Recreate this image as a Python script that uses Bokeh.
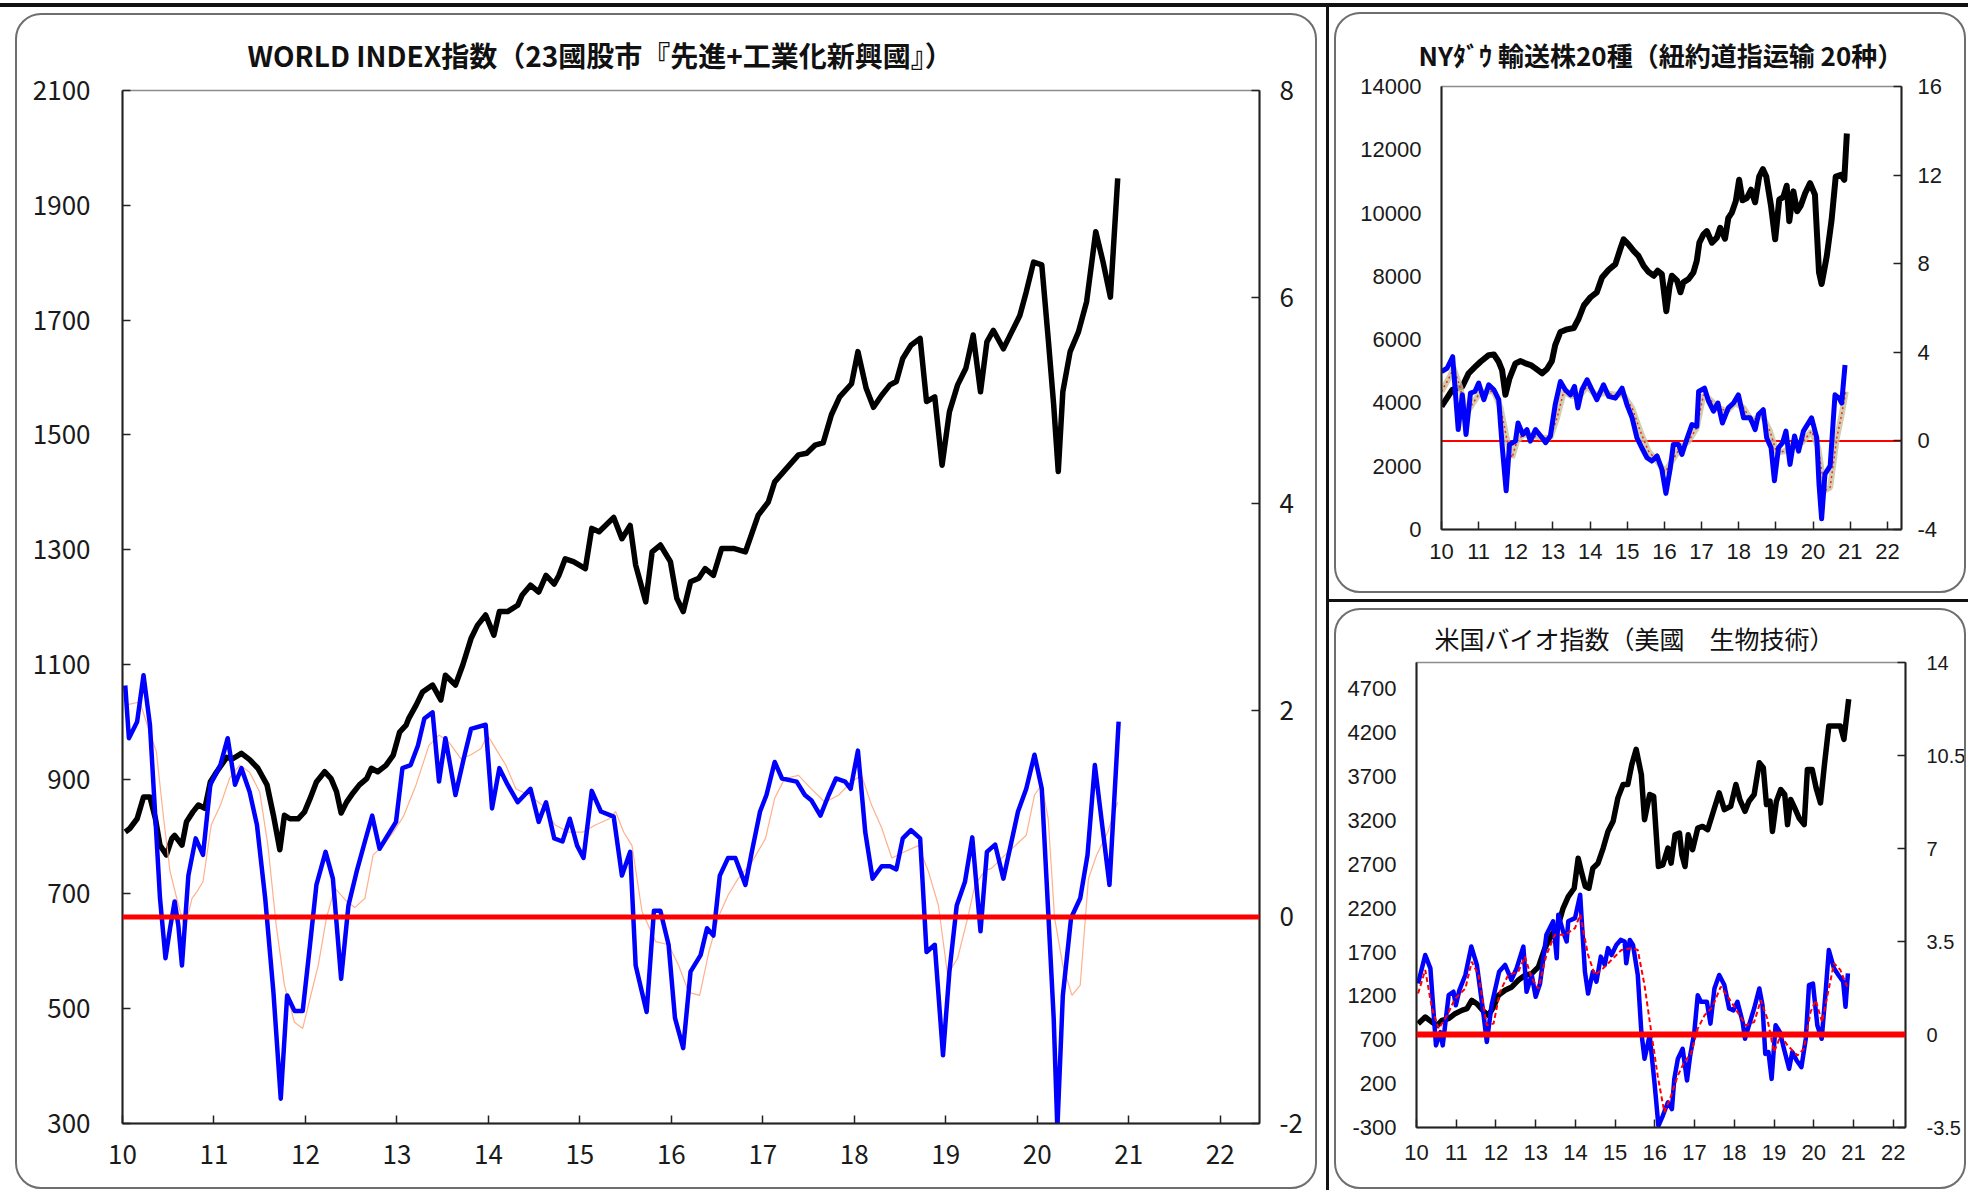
from bokeh.plotting import figure
from bokeh.models import Range1d, LinearAxis, FixedTicker, Span
from bokeh.layouts import row, column
from bokeh.embed import file_html
from bokeh.resources import INLINE

# ---------------- data (decimal years) ----------------
year_ticks = list(range(10, 23))

# WORLD INDEX (left axis)
world_x = [10.03, 10.08, 10.16, 10.23, 10.30, 10.36, 10.41, 10.48, 10.54, 10.57, 10.65, 10.70, 10.77, 10.83,
           10.90, 10.96, 11.03, 11.14, 11.21, 11.30, 11.39, 11.48, 11.58, 11.65, 11.72, 11.77, 11.83, 11.92,
           11.99, 12.05, 12.12, 12.21, 12.28, 12.34, 12.39, 12.45, 12.52, 12.59, 12.67, 12.72, 12.79, 12.88,
           12.96, 13.03, 13.10, 13.13, 13.21, 13.28, 13.39, 13.48, 13.53, 13.64, 13.72, 13.81, 13.88, 13.97,
           14.06, 14.12, 14.21, 14.32, 14.37, 14.46, 14.55, 14.63, 14.72, 14.77, 14.84, 14.93, 15.06, 15.13,
           15.21, 15.28, 15.37, 15.46, 15.55, 15.61, 15.72, 15.79, 15.88, 15.99, 16.06, 16.13, 16.21, 16.30,
           16.37, 16.46, 16.55, 16.68, 16.81, 16.95, 17.06, 17.13, 17.24, 17.39, 17.48, 17.57, 17.66, 17.75,
           17.84, 17.97, 18.04, 18.13, 18.21, 18.30, 18.39, 18.46, 18.53, 18.62, 18.72, 18.79, 18.88, 18.96,
           19.04, 19.13, 19.22, 19.30, 19.38, 19.45, 19.52, 19.63, 19.72, 19.81, 19.88, 19.96, 20.05, 20.12,
           20.18, 20.23, 20.28, 20.36, 20.45, 20.54, 20.64, 20.72, 20.80, 20.88]
world_idx = [808, 814, 831, 869, 869, 831, 785, 768, 797, 802, 785, 826, 843, 855,
             849, 895, 913, 938, 936, 945, 934, 919, 890, 837, 777, 837, 831, 831,
             843, 866, 895, 913, 901, 878, 841, 860, 876, 890, 901, 919, 913, 924,
             942, 982, 994, 1006, 1029, 1052, 1064, 1038, 1081, 1064, 1099, 1145, 1168, 1186,
             1151, 1192, 1192, 1203, 1221, 1238, 1226, 1255, 1240, 1255, 1284, 1279, 1267, 1337,
             1331, 1342, 1356, 1319, 1342, 1273, 1209, 1296, 1308, 1279, 1215, 1192, 1244, 1250,
             1267, 1255, 1302, 1302, 1296, 1360, 1383, 1418, 1438, 1465, 1468, 1482, 1486, 1535,
             1566, 1589, 1645, 1581, 1548, 1569, 1587, 1593, 1633, 1656, 1668, 1558, 1566, 1447,
             1540, 1587, 1616, 1674, 1575, 1662, 1682, 1650, 1679, 1708, 1749, 1801, 1796, 1668,
             1552, 1436, 1575, 1645, 1679, 1732, 1854, 1801, 1740, 1947]

# momentum (right axis)
world_mom_x = [10.03, 10.07, 10.16, 10.23, 10.30, 10.36, 10.41, 10.47, 10.52, 10.57, 10.61, 10.65, 10.72, 10.80,
               10.88, 10.96, 11.07, 11.15, 11.23, 11.30, 11.39, 11.47, 11.56, 11.65, 11.73, 11.80, 11.88, 11.97,
               12.05, 12.12, 12.22, 12.30, 12.39, 12.47, 12.56, 12.65, 12.73, 12.81, 12.90, 12.99, 13.06, 13.15,
               13.23, 13.30, 13.39, 13.46, 13.53, 13.64, 13.73, 13.81, 13.97, 14.04, 14.12, 14.21, 14.32, 14.46,
               14.55, 14.63, 14.72, 14.81, 14.89, 14.97, 15.04, 15.13, 15.23, 15.37, 15.46, 15.55, 15.61, 15.73,
               15.81, 15.88, 15.97, 16.04, 16.13, 16.21, 16.32, 16.39, 16.46, 16.53, 16.62, 16.70, 16.81, 16.88,
               16.97, 17.04, 17.13, 17.21, 17.37, 17.46, 17.53, 17.63, 17.72, 17.80, 17.90, 17.96, 18.04, 18.12,
               18.20, 18.30, 18.39, 18.46, 18.53, 18.62, 18.72, 18.79, 18.88, 18.97, 19.04, 19.12, 19.21, 19.29,
               19.38, 19.45, 19.54, 19.63, 19.79, 19.88, 19.97, 20.05, 20.12, 20.18, 20.22, 20.28, 20.37, 20.47,
               20.55, 20.63, 20.79, 20.89]
world_mom = [2.24, 1.73, 1.89, 2.34, 1.86, 0.95, 0.18, -0.40, -0.11, 0.15, -0.08, -0.47, 0.40, 0.76,
             0.60, 1.28, 1.47, 1.73, 1.28, 1.44, 1.21, 0.89, 0.18, -0.73, -1.76, -0.76, -0.91, -0.91,
             -0.27, 0.31, 0.63, 0.37, -0.60, 0.11, 0.44, 0.73, 0.98, 0.66, 0.79, 0.92, 1.44, 1.47,
             1.66, 1.92, 1.98, 1.31, 1.73, 1.18, 1.53, 1.82, 1.86, 1.05, 1.44, 1.28, 1.11, 1.24,
             0.92, 1.11, 0.76, 0.73, 0.95, 0.69, 0.57, 1.22, 1.02, 0.97, 0.40, 0.63, -0.47, -0.92,
             0.06, 0.06, -0.27, -0.98, -1.27, -0.53, -0.37, -0.11, -0.18, 0.40, 0.57, 0.57, 0.31, 0.63,
             1.02, 1.18, 1.50, 1.34, 1.31, 1.18, 1.13, 0.98, 1.18, 1.34, 1.31, 1.24, 1.61, 0.82,
             0.37, 0.49, 0.49, 0.46, 0.76, 0.84, 0.76, -0.34, -0.27, -1.34, -0.53, 0.11, 0.34, 0.77,
             -0.14, 0.63, 0.70, 0.37, 1.02, 1.24, 1.57, 1.24, 0.05, -0.98, -2.05, -0.76, -0.01, 0.18,
             0.60, 1.47, 0.31, 1.89]

# moving average of momentum (right axis)
world_ma_x = [10.03, 10.19, 10.27, 10.37, 10.45, 10.52, 10.61, 10.68, 10.76, 10.81, 10.88, 10.97, 11.07, 11.17,
              11.28, 11.39, 11.50, 11.59, 11.68, 11.77, 11.88, 11.97, 12.05, 12.14, 12.23, 12.32, 12.45, 12.54,
              12.65, 12.74, 12.85, 12.96, 13.07, 13.21, 13.35, 13.46, 13.57, 13.70, 13.81, 13.92, 13.99, 14.10,
              14.19, 14.30, 14.44, 14.59, 14.73, 14.88, 15.03, 15.17, 15.32, 15.39, 15.48, 15.57, 15.68, 15.83,
              15.97, 16.08, 16.19, 16.31, 16.41, 16.52, 16.62, 16.73, 16.88, 17.03, 17.13, 17.24, 17.39, 17.53,
              17.68, 17.83, 17.97, 18.08, 18.19, 18.30, 18.41, 18.55, 18.70, 18.81, 18.92, 19.02, 19.13, 19.24,
              19.32, 19.43, 19.50, 19.65, 19.76, 19.88, 19.97, 20.05, 20.12, 20.19, 20.28, 20.38, 20.47, 20.56,
              20.65, 20.77, 20.88]
world_ma = [2.05, 2.08, 1.86, 1.60, 0.95, 0.44, 0.12, -0.11, 0.18, 0.24, 0.34, 0.89, 1.08, 1.34,
            1.47, 1.40, 1.21, 0.69, -0.08, -0.66, -1.02, -1.08, -0.79, -0.47, -0.01, 0.28, 0.15, 0.09,
            0.18, 0.60, 0.69, 0.82, 0.97, 1.28, 1.66, 1.76, 1.69, 1.53, 1.57, 1.63, 1.76, 1.60,
            1.47, 1.24, 1.18, 1.08, 0.89, 0.82, 0.82, 0.89, 0.95, 1.02, 0.82, 0.69, 0.05, -0.24,
            -0.27, -0.47, -0.73, -0.76, -0.34, 0.01, 0.21, 0.37, 0.53, 0.76, 1.15, 1.34, 1.37, 1.24,
            1.11, 1.18, 1.31, 1.37, 1.08, 0.86, 0.57, 0.63, 0.69, 0.44, 0.11, -0.56, -0.40, -0.01,
            0.31, 0.45, 0.47, 0.60, 0.69, 0.79, 1.18, 1.28, 0.95, -0.01, -0.47, -0.76, -0.66, 0.37,
            0.60, 0.82, 1.11]

# NY Dow transport 20 (left axis)
tr_x = [10.00, 10.29, 10.56, 10.73, 10.91, 11.05, 11.27, 11.41, 11.54, 11.63, 11.72, 11.83, 11.99, 12.13,
        12.26, 12.40, 12.53, 12.71, 12.84, 12.97, 13.06, 13.20, 13.38, 13.56, 13.69, 13.83, 14.01, 14.18,
        14.32, 14.50, 14.68, 14.81, 14.90, 15.03, 15.17, 15.30, 15.44, 15.57, 15.71, 15.82, 15.93, 16.05,
        16.14, 16.20, 16.34, 16.43, 16.51, 16.65, 16.78, 16.87, 16.94, 17.05, 17.14, 17.28, 17.41, 17.50,
        17.63, 17.72, 17.81, 17.92, 18.01, 18.10, 18.22, 18.33, 18.44, 18.55, 18.65, 18.74, 18.87, 18.98,
        19.09, 19.20, 19.29, 19.36, 19.47, 19.57, 19.67, 19.79, 19.92, 20.05, 20.16, 20.23, 20.37, 20.50,
        20.61, 20.75, 20.84, 20.91]
tr_idx = [3890, 4412, 4517, 4935, 5144, 5301, 5510, 5531, 5301, 5040, 4256, 4778, 5249, 5322,
          5249, 5197, 5092, 4935, 5071, 5322, 5824, 6242, 6326, 6368, 6660, 7079, 7340, 7497,
          7967, 8208, 8386, 8856, 9170, 9013, 8804, 8647, 8333, 8145, 8020, 8177, 8072, 6900,
          7700, 8020, 7863, 7497, 7810, 7915, 8124, 8490, 9065, 9327, 9431, 9065, 9222, 9536,
          9191, 9849, 10006, 10372, 11052, 10404, 10477, 10738, 10341, 11156, 11386, 11156, 10215, 9170,
          10425, 10508, 10864, 9745, 10686, 10058, 10236, 10634, 10947, 10581, 8124, 7758, 8647, 9797,
          11156, 11209, 11052, 12516]

tr_mom_x = [10.00, 10.15, 10.30, 10.45, 10.56, 10.66, 10.78, 10.90, 11.00, 11.14, 11.27, 11.41, 11.54, 11.63,
            11.74, 11.83, 11.99, 12.06, 12.19, 12.30, 12.39, 12.53, 12.71, 12.80, 12.93, 13.06, 13.20, 13.33,
            13.47, 13.58, 13.67, 13.78, 13.92, 14.05, 14.18, 14.36, 14.50, 14.68, 14.86, 14.99, 15.13, 15.26,
            15.39, 15.53, 15.66, 15.80, 15.93, 16.04, 16.16, 16.24, 16.38, 16.47, 16.60, 16.74, 16.87, 16.92,
            17.08, 17.19, 17.32, 17.44, 17.56, 17.72, 17.86, 17.99, 18.13, 18.31, 18.44, 18.53, 18.66, 18.75,
            18.87, 18.96, 19.07, 19.18, 19.27, 19.38, 19.50, 19.61, 19.74, 19.96, 20.10, 20.16, 20.23, 20.32,
            20.46, 20.59, 20.70, 20.77, 20.86]
tr_mom = [3.13, 3.28, 3.80, 0.51, 2.08, 0.29, 2.16, 2.23, 2.61, 1.86, 2.53, 2.31, 1.86, -0.16,
          -2.25, -0.16, -0.01, 0.81, 0.29, 0.51, -0.01, 0.51, 0.14, -0.08, 0.22, 1.64, 2.68, 2.31,
          2.08, 2.46, 1.49, 2.31, 2.76, 2.31, 1.86, 2.53, 2.01, 1.93, 2.38, 1.64, 1.04, 0.14,
          -0.31, -0.76, -0.91, -0.68, -1.28, -2.37, -1.20, -0.16, -0.16, -0.61, 0.07, 0.74, 0.66, 2.23,
          2.38, 1.78, 1.34, 1.71, 0.81, 1.49, 1.71, 2.08, 1.04, 1.04, 0.51, 1.19, 1.41, 0.14,
          -0.31, -1.80, -0.31, -0.08, 0.44, -1.06, 0.22, -0.46, 0.44, 1.04, 0.14, -1.95, -3.52, -1.50,
          -1.13, 2.08, 1.93, 1.71, 3.43]

tr_ma_x = [10.00, 10.20, 10.33, 10.51, 10.65, 10.82, 11.00, 11.18, 11.41, 11.59, 11.77, 11.90, 12.03, 12.21,
           12.44, 12.71, 12.93, 13.11, 13.29, 13.51, 13.74, 13.92, 14.14, 14.41, 14.68, 14.90, 15.13, 15.35,
           15.57, 15.80, 16.02, 16.20, 16.43, 16.65, 16.87, 17.05, 17.23, 17.46, 17.68, 17.90, 18.13, 18.35,
           18.62, 18.84, 19.02, 19.25, 19.47, 19.70, 19.96, 20.14, 20.31, 20.46, 20.64, 20.77, 20.88]
tr_ma = [2.23, 2.83, 3.28, 2.38, 1.19, 1.64, 2.08, 2.23, 2.23, 1.49, -0.01, -0.76, -0.01, 0.29,
         0.22, 0.14, 0.14, 1.04, 2.23, 2.01, 2.08, 2.46, 2.08, 2.16, 2.08, 2.08, 1.49, 0.44,
         -0.46, -0.91, -1.40, -0.91, -0.31, -0.01, 0.59, 2.08, 1.86, 1.49, 1.34, 1.71, 1.49, 0.89,
         1.19, 0.44, -0.53, -0.46, -0.16, -0.08, 0.44, -0.31, -2.25, -2.10, 0.14, 1.19, 2.23]

# US biotech index (left axis)
bio_x = [10.04, 10.22, 10.39, 10.52, 10.64, 10.81, 10.97, 11.14, 11.27, 11.39, 11.52, 11.69, 11.81, 11.94,
         12.06, 12.23, 12.40, 12.56, 12.73, 12.90, 13.07, 13.23, 13.40, 13.57, 13.69, 13.82, 13.97, 14.07,
         14.15, 14.25, 14.34, 14.44, 14.57, 14.70, 14.82, 14.95, 15.07, 15.20, 15.32, 15.42, 15.53, 15.66,
         15.74, 15.87, 15.97, 16.09, 16.20, 16.33, 16.41, 16.51, 16.62, 16.68, 16.76, 16.84, 16.95, 17.08,
         17.20, 17.33, 17.50, 17.62, 17.75, 17.91, 18.04, 18.14, 18.27, 18.37, 18.50, 18.63, 18.73, 18.81,
         18.90, 18.96, 19.06, 19.17, 19.27, 19.34, 19.42, 19.52, 19.63, 19.76, 19.84, 19.96, 20.06, 20.17,
         20.27, 20.38, 20.51, 20.67, 20.76, 20.88]
bio_idx = [882, 959, 901, 863, 920, 940, 997, 1035, 1054, 1149, 1111, 1023, 978, 1073,
           1206, 1264, 1302, 1378, 1435, 1454, 1531, 1740, 1893, 2007, 2198, 2332, 2427, 2770,
           2618, 2446, 2427, 2656, 2713, 2885, 3075, 3190, 3457, 3609, 3609, 3838, 4010, 3724,
           3209, 3495, 3476, 2675, 2694, 2885, 2713, 3037, 3056, 2808, 2675, 3037, 2866, 3113,
           3132, 3094, 3342, 3514, 3323, 3361, 3609, 3438, 3304, 3419, 3495, 3857, 3800, 3380,
           3419, 3075, 3419, 3552, 3495, 3152, 3438, 3342, 3228, 3152, 3781, 3781, 3571, 3399,
           3838, 4277, 4277, 4277, 4124, 4582]

bio_mom_x = [10.04, 10.22, 10.35, 10.49, 10.60, 10.66, 10.81, 10.93, 10.99, 11.08, 11.23, 11.38, 11.52, 11.69,
             11.77, 11.89, 12.08, 12.23, 12.39, 12.52, 12.69, 12.77, 12.90, 13.00, 13.11, 13.27, 13.44, 13.53,
             13.57, 13.69, 13.78, 13.82, 13.99, 14.12, 14.24, 14.32, 14.44, 14.53, 14.64, 14.74, 14.82, 14.91,
             15.03, 15.14, 15.24, 15.28, 15.37, 15.45, 15.57, 15.66, 15.74, 15.87, 15.99, 16.09, 16.20, 16.33,
             16.43, 16.49, 16.58, 16.70, 16.81, 16.89, 16.99, 17.08, 17.16, 17.31, 17.40, 17.50, 17.62, 17.75,
             17.87, 17.98, 18.08, 18.21, 18.27, 18.37, 18.50, 18.63, 18.71, 18.78, 18.86, 18.94, 19.04, 19.15,
             19.25, 19.38, 19.46, 19.57, 19.69, 19.80, 19.88, 19.98, 20.09, 20.20, 20.30, 20.38, 20.51, 20.62,
             20.74, 20.80, 20.86]
bio_mom = [1.92, 2.99, 2.49, -0.41, 0.09, -0.41, 1.48, 1.61, 1.10, 1.67, 2.24, 3.31, 2.62, 0.72,
           -0.28, 1.10, 2.36, 2.62, 2.05, 2.49, 3.31, 1.61, 2.24, 1.42, 1.92, 3.75, 4.26, 2.87,
           4.51, 3.88, 3.50, 4.26, 4.38, 5.26, 2.36, 1.54, 2.36, 1.99, 2.93, 2.62, 3.25, 2.99,
           3.37, 3.56, 3.50, 2.68, 3.56, 3.37, 2.24, 0.09, -0.91, -0.03, -1.80, -3.44, -3.06, -2.55,
           -2.81, -1.67, -0.91, -0.54, -1.73, -0.79, 0.03, 1.48, 1.23, 1.23, 0.41, 1.73, 2.24, 1.86,
           0.98, 0.91, 1.23, 0.47, -0.16, 0.35, 0.98, 1.73, 1.10, -0.73, -0.66, -1.67, 0.35, 0.09,
           -0.54, -1.29, -0.66, -0.98, -1.23, -0.16, 1.86, 1.92, 0.35, -0.16, 1.61, 3.18, 2.49, 2.24,
           1.99, 1.04, 2.30]

bio_ma_x = [10.04, 10.22, 10.39, 10.56, 10.77, 10.97, 11.23, 11.39, 11.56, 11.77, 11.94, 12.10, 12.31, 12.56,
            12.73, 12.90, 13.07, 13.27, 13.48, 13.73, 13.99, 14.12, 14.32, 14.49, 14.70, 14.91, 15.16, 15.41,
            15.57, 15.74, 15.91, 16.07, 16.24, 16.41, 16.58, 16.74, 16.91, 17.08, 17.25, 17.45, 17.66, 17.87,
            18.08, 18.29, 18.50, 18.67, 18.83, 19.00, 19.17, 19.34, 19.59, 19.75, 19.92, 20.05, 20.21, 20.38,
            20.51, 20.67, 20.84]
bio_ma = [1.54, 2.43, 0.98, 0.22, 0.72, 1.35, 1.73, 2.74, 2.24, 0.35, 0.41, 1.61, 2.24, 2.36,
          2.93, 2.11, 1.73, 2.99, 3.75, 3.75, 4.00, 4.51, 2.99, 2.24, 2.49, 2.81, 3.18, 3.25,
          3.18, 1.86, 0.09, -1.54, -2.93, -2.30, -1.54, -1.04, -0.73, 0.22, 0.72, 1.04, 1.80, 1.35,
          0.85, 0.35, 0.47, 1.29, 0.60, -0.66, -0.03, -0.41, -0.79, -0.54, 0.85, 1.29, 0.47, 1.73,
          2.68, 2.43, 1.80]

# axis ticks / labels
main_left_ticks = [300, 500, 700, 900, 1100, 1300, 1500, 1700, 1900, 2100]
main_right_ticks = [-2, 0, 2, 4, 6, 8]
tr_left_ticks = [0, 2000, 4000, 6000, 8000, 10000, 12000, 14000]
tr_right_ticks = [-4, 0, 4, 8, 12, 16]
bio_left_ticks = [-300, 200, 700, 1200, 1700, 2200, 2700, 3200, 3700, 4200, 4700]
bio_right_ticks = [-3.5, 0, 3.5, 7, 10.5, 14]
bio_right_labels = ["-3.5", "0", "3.5", "7", "10.5", "14"]

main_title = "WORLD INDEX指数（23國股市『先進+工業化新興國』）"
tr_title = "NYﾀﾞｳ 輸送株20種（紐約道指运输 20种）"
bio_title = "米国バイオ指数（美國　生物技術）"

JP = "Noto Sans CJK JP"
AR = "Liberation Sans"
BORDER = {"border": "2px solid #6e6e6e", "border-radius": "26px"}


def make_panel(w, h, mbl, mbr, mbt, mbb, xr, yl, yr, margin):
    p = figure(width=w, height=h, x_range=Range1d(*xr), y_range=Range1d(*yl),
               output_backend="svg", toolbar_location=None,
               min_border_left=mbl, min_border_right=mbr, min_border_top=mbt, min_border_bottom=mbb,
               margin=margin, styles=dict(BORDER))
    p.extra_y_ranges = {"r": Range1d(*yr)}
    p.add_layout(LinearAxis(y_range_name="r"), "right")
    p.xgrid.visible = False
    p.ygrid.visible = False
    p.background_fill_color = None
    p.border_fill_color = None
    p.outline_line_color = "#8c8c8c"
    p.outline_line_width = 1.5
    return p


def style_axis(ax, ticks, labels, font, size, standoff, tick_in):
    ax.ticker = FixedTicker(ticks=ticks)
    ax.major_label_overrides = {t: l for t, l in zip(ticks, labels)}
    ax.major_label_text_font = font
    ax.major_label_text_font_size = f"{size}px"
    ax.major_label_text_color = "#1a1a1a"
    ax.major_label_standoff = standoff
    ax.major_tick_in = tick_in
    ax.major_tick_out = 0
    ax.major_tick_line_color = "#222222"
    ax.major_tick_line_width = 1.5
    ax.minor_tick_line_color = None
    ax.axis_line_color = "#222222"
    ax.axis_line_width = 2


def set_title(p, text, offset, standoff, size, bold):
    t = p.title
    t.text = text
    t.align = "left"
    t.offset = offset
    t.standoff = standoff
    t.text_font = JP
    t.text_font_size = f"{size}px"
    t.text_font_style = "bold" if bold else "normal"
    t.text_color = "#111111"


# ---------------- main panel ----------------
m_xr, m_yl, m_yr = (10, 22.43), (300, 2100), (-2, 8)
pm = make_panel(1302, 1176, 105, 60, 75, 68, m_xr, m_yl, m_yr, (6, 9, 1, 15))
style_axis(pm.below[0], year_ticks, [str(t) for t in year_ticks], JP, 26, 21, 8)
style_axis(pm.left[0], main_left_ticks, [str(t) for t in main_left_ticks], JP, 26, 32, 8)
style_axis(pm.right[0], main_right_ticks, [str(t) for t in main_right_ticks], JP, 26, 20, 8)
pm.line(world_x, world_idx, line_color="black", line_width=5.5, line_join="round")
pm.line(world_ma_x, world_ma, line_color="#ffb08c", line_width=1.2, y_range_name="r")
pm.line(world_mom_x, world_mom, line_color="#0000ff", line_width=4.5, line_join="round", y_range_name="r")
pm.add_layout(Span(location=0, dimension="width", y_range_name="r", line_color="#ff0000", line_width=5))
set_title(pm, main_title, 125, 32, 28, True)

# ---------------- NY Dow transport panel ----------------
t_xr, t_yl, t_yr = (10, 22.38), (0, 14000), (-4, 16)
pt = make_panel(632, 581, 105, 67, 72, 66, t_xr, t_yl, t_yr, (5, 2, 6, 5))
style_axis(pt.below[0], year_ticks, [str(t) for t in year_ticks], AR, 22, 14, 8)
style_axis(pt.left[0], tr_left_ticks, [str(t) for t in tr_left_ticks], AR, 22, 20, 0)
style_axis(pt.right[0], tr_right_ticks, [str(t) for t in tr_right_ticks], AR, 22, 16, 8)
pt.add_layout(Span(location=0, dimension="width", y_range_name="r", line_color="#ff0000",
                   line_width=2, level="underlay"))
pt.line(tr_x, tr_idx, line_color="black", line_width=6, line_join="round")
pt.line(tr_ma_x, tr_ma, line_color="#c4c29a", line_width=6, line_alpha=0.8, y_range_name="r")
pt.line(tr_ma_x, tr_ma, line_color="#ff2020", line_width=1.5, line_dash="2 3", y_range_name="r")
pt.line(tr_mom_x, tr_mom, line_color="#0000ff", line_width=5, line_join="round", y_range_name="r")
set_title(pt, tr_title, -23, 28, 26, True)

# ---------------- US biotech panel ----------------
b_xr, b_yl, b_yr = (10, 22.31), (-300, 5000), (-3.5, 14)
pb = make_panel(632, 581, 80, 62, 52, 64, b_xr, b_yl, b_yr, (6, 2, 1, 5))
style_axis(pb.below[0], year_ticks, [str(t) for t in year_ticks], AR, 22, 17, 8)
style_axis(pb.left[0], bio_left_ticks, [str(t) for t in bio_left_ticks], AR, 22, 20, 0)
style_axis(pb.right[0], bio_right_ticks, bio_right_labels, AR, 20, 21, 8)
pb.line(bio_x, bio_idx, line_color="black", line_width=5.5, line_join="round")
pb.line(bio_mom_x, bio_mom, line_color="#0000ff", line_width=4.5, line_join="round", y_range_name="r")
pb.line(bio_ma_x, bio_ma, line_color="#ff0000", line_width=2, line_dash="5 3", y_range_name="r")
pb.add_layout(Span(location=0, dimension="width", y_range_name="r", line_color="#ff0000", line_width=6))
set_title(pb, bio_title, 18, 14, 25, False)

# ---------------- layout ----------------
bottom_wrap = column(pb, styles={"border-top": "3px solid #111111"})
right_col = column(pt, bottom_wrap, styles={"border-left": "3px solid #111111"})
layout = row(pm, right_col, margin=(3, 0, 0, 0), styles={"border-top": "4px solid #111111"})

open("out.html", "w").write(file_html(layout, INLINE))
